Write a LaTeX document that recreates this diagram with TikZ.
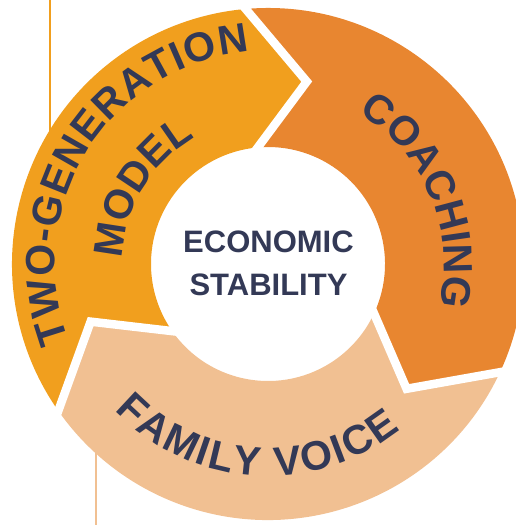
\documentclass[tikz,border=0pt]{standalone}
\usepackage{fontspec}
\setmainfont{Liberation Sans}
\newfontfamily\arcfnt[Scale=4.1]{Liberation Sans}
\usetikzlibrary{decorations.text}
\definecolor{tgcol}{RGB}{241,159,30}
\definecolor{cocol}{RGB}{232,134,48}
\definecolor{fvcol}{RGB}{241,192,146}
\definecolor{txcol}{RGB}{51,57,86}
\tikzset{
  gapline/.style={draw=white, line width=8.5pt, line join=miter, shorten <=-8pt, shorten >=-8pt},
  thinline/.style={line width=1.6pt},
  ctext/.style={font=\fontsize{31}{31}\selectfont\bfseries, text=txcol, inner sep=0pt, anchor=base},
  arctext/.style={decorate, decoration={text along path, text={|\arcfnt\bfseries|#1}, text align={fit to path}, text color=txcol}}
}
\begin{document}
\begin{tikzpicture}
\useasboundingbox (-268pt,-261pt) rectangle (247pt,264pt);
% thin vertical lines behind the ring
\coordinate (lt1) at (-218pt,264pt);
\coordinate (lt2) at (-218pt,60pt);
\draw[tgcol, thinline] (lt1) -- (lt2);
\coordinate (lb1) at (-172pt,-150pt);
\coordinate (lb2) at (-172pt,-261pt);
\draw[fvcol, thinline] (lb1) -- (lb2);
% segment boundary points
\coordinate (o1) at (95:256pt);  \coordinate (t1) at (78:186.5pt);  \coordinate (i1) at (95:117pt);
\coordinate (o2) at (-25:256pt); \coordinate (t2) at (-42:186.5pt); \coordinate (i2) at (-25:117pt);
\coordinate (o3) at (215:256pt); \coordinate (t3) at (198:186.5pt); \coordinate (i3) at (215:117pt);
% two-generation segment
\fill[tgcol] (o3) arc[start angle=215, end angle=95, radius=256pt] -- (t1) -- (i1)
  arc[start angle=95, end angle=215, radius=117pt] -- (t3) -- cycle;
% coaching segment
\fill[cocol] (o1) arc[start angle=95, end angle=-25, radius=256pt] -- (t2) -- (i2)
  arc[start angle=-25, end angle=95, radius=117pt] -- (t1) -- cycle;
% family voice segment
\fill[fvcol] (o2) arc[start angle=-25, end angle=-145, radius=256pt] -- (t3) -- (i3)
  arc[start angle=-145, end angle=-25, radius=117pt] -- (t2) -- cycle;
% white gaps
\draw[gapline] (o1) -- (t1) -- (i1);
\draw[gapline] (o2) -- (t2) -- (i2);
\draw[gapline] (o3) -- (t3) -- (i3);
% arc texts
\path[arctext={TWO-GENERATION}] (201:213pt) arc[start angle=201, end angle=95, radius=213pt];
\path[arctext={MODEL}] (178:146pt) arc[start angle=178, end angle=120.5, radius=146pt];
\path[arctext={COACHING}] (59:176pt) arc[start angle=59, end angle=-12.7, radius=176pt];
\path[arctext={FAMILY VOICE}] (223.7:212pt) arc[start angle=223.7, end angle=308.8, radius=212pt];
% centre text
\node[ctext] (econ) at (0.5pt,12pt) {ECONOMIC};
\node[ctext] (stab) at (0.5pt,-31pt) {STABILITY};
\end{tikzpicture}
\end{document}
